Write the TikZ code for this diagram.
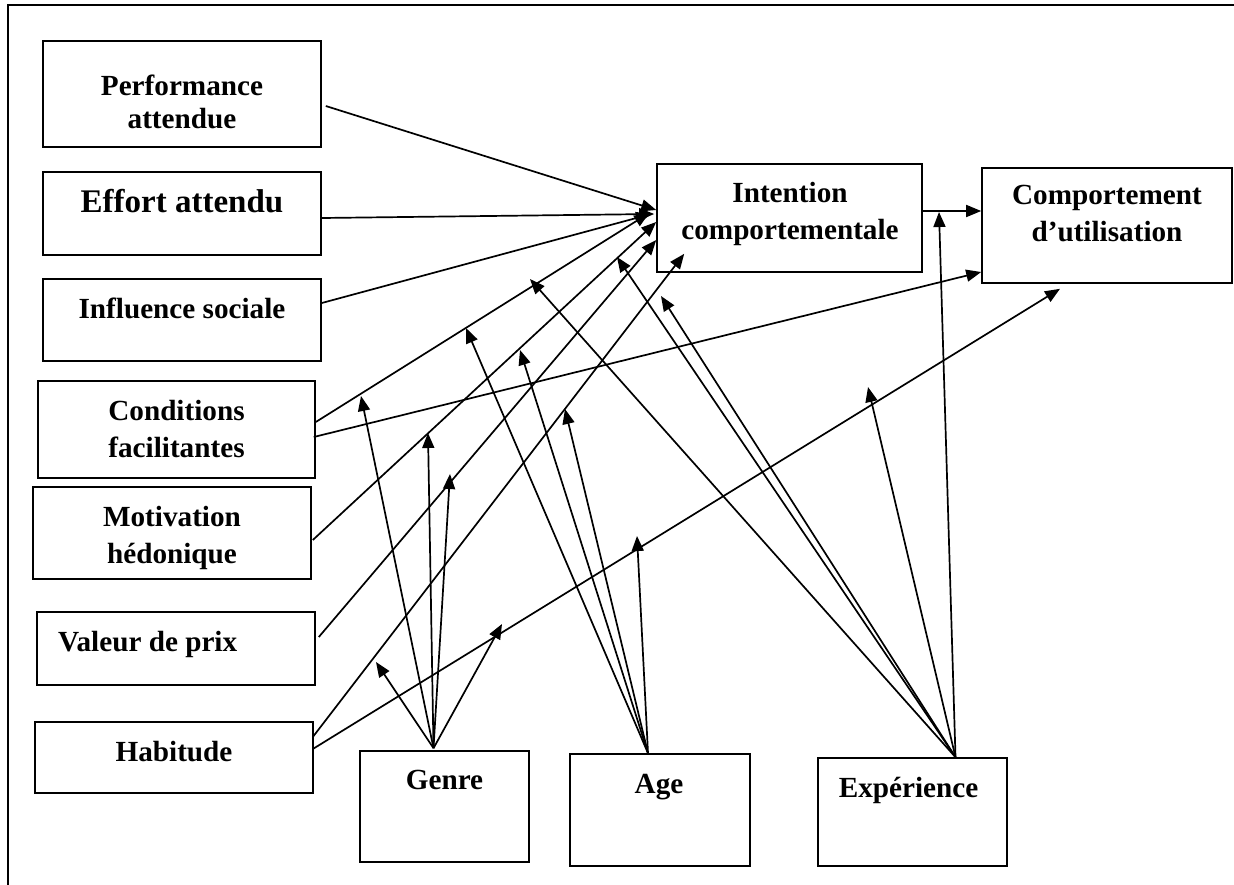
\documentclass[tikz,border=0pt]{standalone}
\usepackage{fontspec}
\setmainfont{Liberation Serif}
\usetikzlibrary{arrows.meta,calc}
\newcommand{\twolines}[2]{\begin{tabular}[t]{@{}c@{}}#1\\#2\end{tabular}}

\begin{document}
\begin{tikzpicture}[x=1pt,y=-1pt,
  frame/.style={line width=2pt},
  box/.style={draw, line width=1.6pt, inner sep=0pt, rectangle},
  lbl/.style={anchor=base, inner sep=0pt, font=\fontsize{29.2}{37}\selectfont\bfseries},
  link/.style={line width=1.7pt, -{Triangle[length=15pt,width=12pt]}}]

\useasboundingbox (0,0) rectangle (1234,884);
% page frame (open at the right and bottom)
\draw[frame] (8,890) -- (8,5) -- (1240,5);

% determinants
\node[box, minimum width=278pt, minimum height=106pt] (perf)   at (182,94)    {};
\node[box, minimum width=278pt, minimum height=83pt]  (effort) at (182,213.5) {};
\node[box, minimum width=278pt, minimum height=82pt]  (infl)   at (182,320)   {};
\node[box, minimum width=277pt, minimum height=97pt]  (cond)   at (176.5,429.5) {};
\node[box, minimum width=278pt, minimum height=92pt]  (motiv)  at (172,533)   {};
\node[box, minimum width=278pt, minimum height=73pt]  (valeur) at (176,648.5) {};
\node[box, minimum width=278pt, minimum height=71pt]  (habit)  at (174,757.5) {};

% outcomes
\node[box, minimum width=265pt, minimum height=108pt] (int)  at (789.5,218)  {};
\node[box, minimum width=250pt, minimum height=115pt] (comp) at (1107,225.5) {};

% moderators
\node[box, minimum width=169pt, minimum height=111pt] (genre) at (444.5,806.5) {};
\node[box, minimum width=180pt, minimum height=112pt] (age)   at (660,810)     {};
\node[box, minimum width=189pt, minimum height=108pt] (exp)   at (912.5,812)   {};

% labels
\node[lbl] (t-perf) at (182,95) {\fontsize{29.2}{33}\selectfont\twolines{Performance}{attendue}};
\node[lbl, font=\fontsize{33}{37}\selectfont\bfseries] (t-effort) at (182,212) {Effort attendu};
\node[lbl] (t-infl) at (182,318) {Influence sociale};
\node[lbl] (t-cond) at (176.5,420) {\twolines{Conditions}{facilitantes}};
\node[lbl] (t-motiv) at (172,526) {\twolines{Motivation}{hédonique}};
\node[lbl, anchor=base west] (t-valeur) at (58,651) {Valeur de prix};
\node[lbl] (t-habit) at (174,761) {Habitude};
\node[lbl] (t-int) at (790,202) {\twolines{Intention}{comportementale}};
\node[lbl] (t-comp) at (1107,204) {\twolines{Comportement}{d’utilisation}};
\node[lbl] (t-genre) at (444.5,789) {Genre};
\node[lbl] (t-age) at (659,793) {Age};
\node[lbl] (t-exp) at (908.5,797) {Expérience};

% direct effects
\draw[link] ($(perf.east)+(4,12)$)     -- ($(int.west)+(0,-8)$);
\draw[link] ($(effort.east)+(0,4.5)$)  -- ($(int.west)+(-2,-4)$);
\draw[link] ($(infl.east)+(0,-17)$)    -- ($(int.west)+(-5,-4)$);
\draw[link] ($(cond.east)+(0,-7.5)$)   -- ($(int.west)+(-7,-5)$);
\draw[link] ($(cond.east)+(-2,7.5)$)   -- ($(comp.west)+(0,46.5)$);
\draw[link] ($(motiv.east)+(1,7)$)     -- ($(int.west)+(0,4)$);
\draw[link] ($(valeur.east)+(3,-11.5)$) -- ($(int.west)+(0,22)$);
\draw[link] ($(habit.east)+(-1,-20.5)$) -- ($(int.south west)+(28,-19)$);
\draw[link] ($(habit.east)+(-1,-8.5)$)  -- ($(comp.south)+(-47,5)$);
\draw[link] ($(int.east)+(0,-7)$)      -- ($(comp.west)+(0,-14.5)$);

% moderator fan points
\coordinate (gfan) at ($(genre.north)+(-11,-2)$);
\coordinate (afan) at ($(age.north)+(-12,0)$);
\coordinate (efan) at ($(exp.north)+(43,0)$);

% points on the moderated paths
\coordinate (mg1) at (361,396);
\coordinate (mg2) at (428,433);
\coordinate (mg3) at (450,474);
\coordinate (mg4) at (376,662);
\coordinate (mg5) at (502,624);
\coordinate (ma1) at (466,328);
\coordinate (ma2) at (520,350);
\coordinate (ma3) at (565,409);
\coordinate (ma4) at (637,536);
\coordinate (me1) at (530,279);
\coordinate (me2) at (617,257);
\coordinate (me3) at (661,296);
\coordinate (me4) at (939,212);
\coordinate (me5) at (868,387);

% moderating effects
\foreach \t in {mg1,mg2,mg3,mg4,mg5} \draw[link] (gfan) -- (\t);
\foreach \t in {ma1,ma2,ma3,ma4} \draw[link] (afan) -- (\t);
\foreach \t in {me1,me2,me3,me4,me5} \draw[link] (efan) -- (\t);

\end{tikzpicture}
\end{document}
